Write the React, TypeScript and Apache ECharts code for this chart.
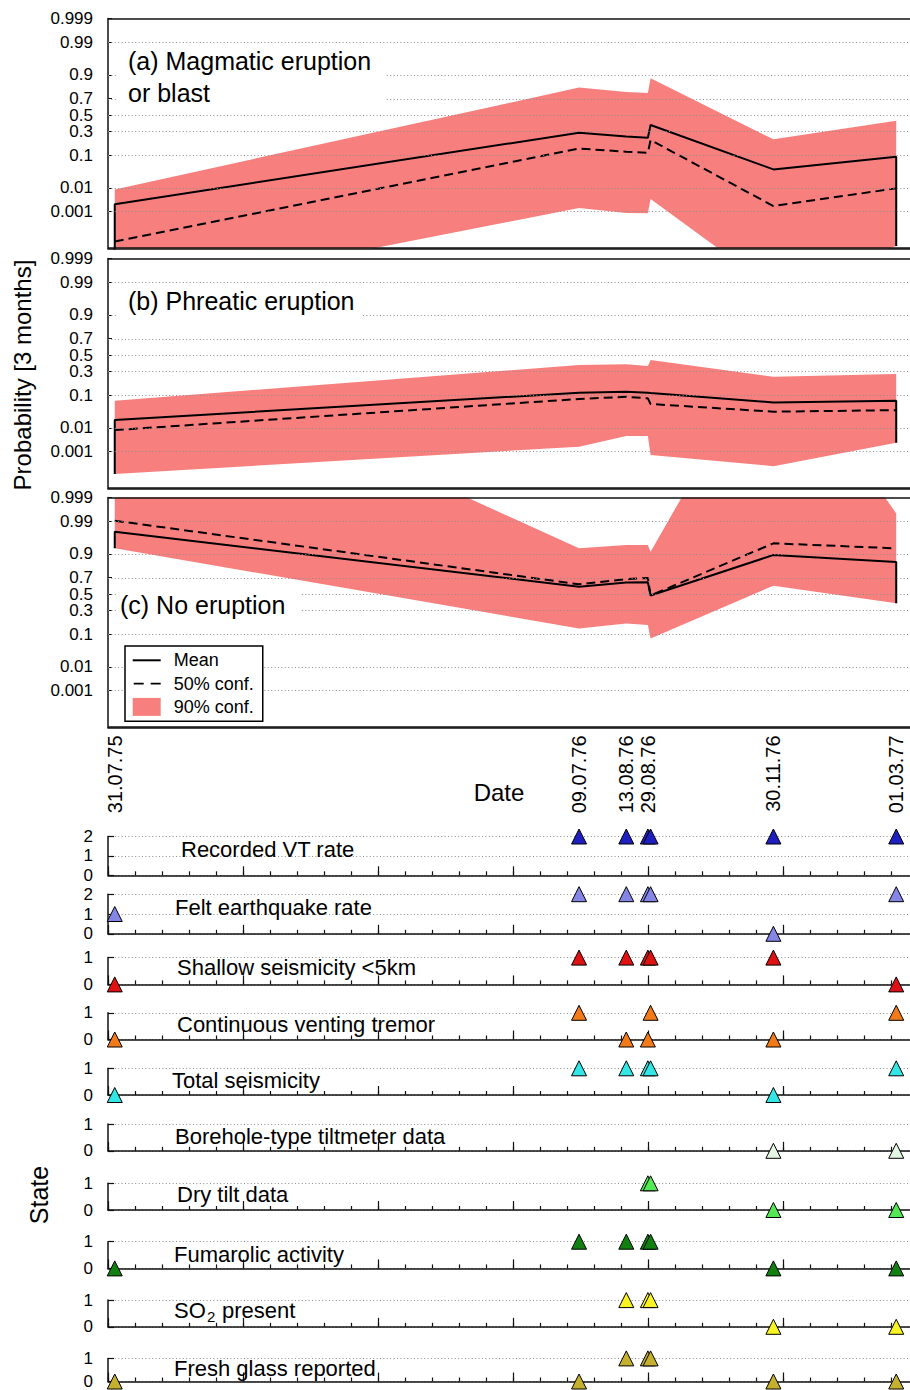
import React, { useEffect, useRef } from 'react';
import * as echarts from 'echarts';

// ---------------- data ----------------
const AXIS_START = '1975-07-26';
const AXIS_DAYS = 600;

const evalDates = ['1975-07-31', '1976-07-09', '1976-08-13', '1976-08-29', '1976-08-31', '1976-11-30', '1977-03-01'];
const dateTickDates = ['1975-07-31', '1976-07-09', '1976-08-13', '1976-08-29', '1976-11-30', '1977-03-01'];
const dateTickLabels = ['31.07.75', '09.07.76', '13.08.76', '29.08.76', '30.11.76', '01.03.77'];

const probTicks = [0.001, 0.01, 0.1, 0.3, 0.5, 0.7, 0.9, 0.99, 0.999];
const probTickLabels = ['0.001', '0.01', '0.1', '0.3', '0.5', '0.7', '0.9', '0.99', '0.999'];
const probAxisMin = 0.00001;
const probAxisMax = 0.999;

// (a) Magmatic eruption or blast
const magmaticMean = [0.00215, 0.286, 0.246, 0.234, 0.375, 0.041, 0.091];
const magmaticMedian = [0.000026, 0.142, 0.12, 0.114, 0.212, 0.0018, 0.0095];
const magmaticUpper = [0.0087, 0.81, 0.769, 0.759, 0.88, 0.2186, 0.428];
const magmaticLower = [2e-9, 0.00147, 0.00086, 0.00084, 0.0036, 1.4e-8, 1.4e-5];

// (b) Phreatic eruption
const phreaticMean = [0.0188, 0.114, 0.12, 0.114, 0.112, 0.065, 0.072];
const phreaticMedian = [0.0082, 0.08, 0.091, 0.083, 0.0586, 0.035, 0.039];
const phreaticUpper = [0.072, 0.375, 0.383, 0.362, 0.436, 0.244, 0.272];
const phreaticLower = [0.00007, 0.0017, 0.0048, 0.0048, 0.0007, 0.00019, 0.0025];

// (c) No eruption
const noEruptionMean = [0.977, 0.592, 0.643, 0.646, 0.481, 0.894, 0.847];
const noEruptionMedian = [0.9905, 0.622, 0.684, 0.696, 0.481, 0.9475, 0.928];
const noEruptionUpper = [0.9999999999999999, 0.928, 0.9414, 0.9414, 0.912, 0.9999999999999999, 0.995];
const noEruptionLower = [0.928, 0.136, 0.174, 0.161, 0.078, 0.605, 0.383];

const panelTitles = [['(a) Magmatic eruption', 'or blast'], ['(b) Phreatic eruption'], ['(c) No eruption']];

// state indicators (null = not evaluated)
const rowNames = [
  'Recorded VT rate', 'Felt earthquake rate', 'Shallow seismicity <5km', 'Continuous venting tremor',
  'Total seismicity', 'Borehole-type tiltmeter data', 'Dry tilt data', 'Fumarolic activity', 'SO2 present',
  'Fresh glass reported',
];
const rowMaxState = [2, 2, 1, 1, 1, 1, 1, 1, 1, 1];
const recordedVT = [null, 2, 2, 2, 2, 2, 2];
const feltEarthquake = [1, 2, 2, 2, 2, 0, 2];
const shallowSeismicity = [0, 1, 1, 1, 1, 1, 0];
const ventingTremor = [0, 1, 0, 0, 1, 0, 1];
const totalSeismicity = [0, 1, 1, 1, 1, 0, 1];
const boreholeTilt = [null, null, null, null, null, 0, 0];
const dryTilt = [null, null, null, 1, 1, 0, 0];
const fumarolic = [0, 1, 1, 1, 1, 0, 0];
const so2Present = [null, null, 1, 1, 1, 0, 0];
const freshGlass = [0, 0, 1, 1, 1, 0, 0];
const rowValues = [recordedVT, feltEarthquake, shallowSeismicity, ventingTremor, totalSeismicity,
  boreholeTilt, dryTilt, fumarolic, so2Present, freshGlass];

// ---------------- styles / layout ----------------
const FONT = "'Liberation Sans', Arial, Helvetica, sans-serif";
const PINK = '#f7807f';
const AXIS_COLOR = '#111';
const GRID_COLOR = '#8c8c8c';
const rowColors = ['#1f1fbf', '#8585e6', '#de1212', '#f27a18', '#33e6e6', '#e4f6e4', '#55e855', '#118011', '#f8f424', '#c4b02c'];
const rowTops = [836.5, 894.2, 957.6, 1012.8, 1068.3, 1124.1, 1183.3, 1241.7, 1300.1, 1358.4];
const rowHeights = [38.8, 39.6, 26.8, 26.7, 26.7, 26.7, 26.7, 26.7, 26.7, 26.7];
const rowLabelX = [181, 175, 177, 177, 172, 175, 177, 174, 174, 174];
const rowLabelY = [849, 907, 967.5, 1024.5, 1080.5, 1136, 1194.5, 1254.5, 1310.5, 1368.5];

const GRID_LEFT = 108;
const PX_PER_DAY = 1.3497;
const GRID_W = AXIS_DAYS * PX_PER_DAY;
const panelTops = [18.4, 258.4, 497.4];
const PANEL_H = 230;
const MEDIAN_DASH = [9, 5];

// ---------------- helpers (axis transforms) ----------------
function probit(p: number): number {
  const a = [-39.69683028665376, 220.9460984245205, -275.9285104469687, 138.357751867269, -30.66479806614716, 2.506628277459239];
  const b = [-54.47609879822406, 161.5858368580409, -155.6989798598866, 66.80131188771972, -13.28068155288572];
  const c = [-0.007784894002430293, -0.3223964580411365, -2.400758277161838, -2.549732539343734, 4.374664141464968, 2.938163982698783];
  const d = [0.007784695709041462, 0.3224671290700398, 2.445134137142996, 3.754408661907416];
  const pl = 0.02425;
  if (p < pl) {
    const q = Math.sqrt(-2 * Math.log(p));
    return (((((c[0] * q + c[1]) * q + c[2]) * q + c[3]) * q + c[4]) * q + c[5]) / ((((d[0] * q + d[1]) * q + d[2]) * q + d[3]) * q + 1);
  }
  if (p <= 1 - pl) {
    const q = p - 0.5;
    const r = q * q;
    return ((((((a[0] * r + a[1]) * r + a[2]) * r + a[3]) * r + a[4]) * r + a[5]) * q) / (((((b[0] * r + b[1]) * r + b[2]) * r + b[3]) * r + b[4]) * r + 1);
  }
  const q = Math.sqrt(-2 * Math.log(1 - p));
  return -(((((c[0] * q + c[1]) * q + c[2]) * q + c[3]) * q + c[4]) * q + c[5]) / ((((d[0] * q + d[1]) * q + d[2]) * q + d[3]) * q + 1);
}
const dayOf = (s: string) => (Date.parse(s) - Date.parse(AXIS_START)) / 86400000;
const nearestIndex = (vals: number[], v: number) => {
  let best = 0;
  vals.forEach((x, i) => { if (Math.abs(x - v) < Math.abs(vals[best] - v)) best = i; });
  return best;
};

const Y_MIN = probit(probAxisMin);
const Y_MAX = probit(probAxisMax);
const probTickPos = probTicks.map(probit);
const dateTickPos = dateTickDates.map(dayOf);

function buildOption(): any {
  const panels = [
    { mean: magmaticMean, median: magmaticMedian, upper: magmaticUpper, lower: magmaticLower },
    { mean: phreaticMean, median: phreaticMedian, upper: phreaticUpper, lower: phreaticLower },
    { mean: noEruptionMean, median: noEruptionMedian, upper: noEruptionUpper, lower: noEruptionLower },
  ];

  const grid: any[] = [];
  const xAxis: any[] = [];
  const yAxis: any[] = [];
  const series: any[] = [];

  panels.forEach((pn, i) => {
    grid.push({ left: GRID_LEFT, top: panelTops[i], width: GRID_W, height: PANEL_H, containLabel: false });
    xAxis.push({
      type: 'value', gridIndex: i, min: 0, max: AXIS_DAYS,
      axisLine: { show: true, onZero: false, lineStyle: { color: AXIS_COLOR, width: 1.5 } },
      axisTick: { show: false },
      splitLine: { show: false },
      axisLabel: i === 2
        ? {
          show: true, customValues: dateTickPos, rotate: 90, margin: 8, fontSize: 20, color: '#000', fontFamily: FONT,
          formatter: (v: number) => dateTickLabels[nearestIndex(dateTickPos, v)],
        }
        : { show: false },
    });
    yAxis.push({
      type: 'value', gridIndex: i, min: Y_MIN, max: Y_MAX,
      axisLine: { show: true, lineStyle: { color: AXIS_COLOR, width: 1.5 } },
      axisTick: { show: true, inside: true, length: 4, customValues: probTickPos, lineStyle: { color: AXIS_COLOR } },
      axisLabel: {
        show: true, customValues: probTickPos, margin: 15, fontSize: 17, color: '#000', fontFamily: FONT,
        formatter: (v: number) => probTickLabels[nearestIndex(probTickPos, v)],
      },
      splitLine: { show: false },
    });

    const upper = pn.upper;
    const lower = pn.lower;
    series.push({
      type: 'custom', name: '90% conf.', xAxisIndex: i, yAxisIndex: i, z: 1, silent: true, clip: true,
      itemStyle: { color: PINK },
      data: evalDates.map((d, k) => [dayOf(d), probit(lower[k]), probit(upper[k])]),
      encode: { x: 0, y: [1, 2] },
      renderItem: (params: any, api: any) => {
        if (params.dataIndex !== 0) return null;
        const up = evalDates.map((d, k) => api.coord([dayOf(d), probit(upper[k])]));
        const lo = evalDates.map((d, k) => api.coord([dayOf(d), probit(lower[k])])).reverse();
        const cs = params.coordSys;
        return {
          type: 'polygon',
          shape: { points: up.concat(lo) },
          style: { fill: PINK },
          clipPath: { type: 'rect', shape: { x: cs.x, y: cs.y, width: cs.width, height: cs.height } },
        };
      },
    });
    series.push({
      type: 'line', name: 'gridlines' + i, xAxisIndex: i, yAxisIndex: i, data: [], z: 2, silent: true, clip: false,
      markLine: {
        silent: true, symbol: ['none', 'none'], label: { show: false }, emphasis: { disabled: true },
        lineStyle: { type: [1, 2.4], color: GRID_COLOR, width: 1 },
        data: [
          ...probTickPos.slice(0, -1).map((v) => ({ yAxis: v })),
          { yAxis: Y_MAX, lineStyle: { type: 'solid', color: AXIS_COLOR, width: 1.5 } },
          { yAxis: Y_MIN, lineStyle: { type: 'solid', color: AXIS_COLOR, width: 1.5 } },
        ],
      },
    });
    const first = dayOf(evalDates[0]);
    const last = dayOf(evalDates[evalDates.length - 1]);
    series.push({
      type: 'line', name: 'Mean', xAxisIndex: i, yAxisIndex: i, z: 3, symbol: 'none', silent: true,
      lineStyle: { color: '#000', width: 2 }, itemStyle: { color: '#000' },
      data: [
        [first, probit(lower[0])],
        ...evalDates.map((d, k) => [dayOf(d), probit(pn.mean[k])]),
        [last, probit(lower[lower.length - 1])],
      ],
    });
    series.push({
      type: 'line', name: '50% conf.', xAxisIndex: i, yAxisIndex: i, z: 3, symbol: 'none', silent: true,
      lineStyle: { color: '#000', width: 2, type: MEDIAN_DASH }, itemStyle: { color: '#000' },
      data: evalDates.map((d, k) => [dayOf(d), probit(pn.median[k])]),
    });
  });

  const nRows = rowValues.length;
  rowValues.forEach((vals, r) => {
    const gi = 3 + r;
    grid.push({ left: GRID_LEFT, top: rowTops[r], width: GRID_W, height: rowHeights[r], containLabel: false });
    xAxis.push({
      type: 'value', gridIndex: gi, min: 0, max: AXIS_DAYS, interval: 20,
      axisLine: { show: true, onZero: false, lineStyle: { color: AXIS_COLOR, width: 1.5 } },
      axisTick: { show: true, inside: true, length: 4, lineStyle: { color: AXIS_COLOR, width: 1.2 } },
      axisLabel: { show: false }, splitLine: { show: false },
    });
    yAxis.push({
      type: 'value', gridIndex: gi, min: 0, max: rowMaxState[r], interval: 1,
      axisLine: { show: true, lineStyle: { color: AXIS_COLOR, width: 1.5 } },
      axisTick: { show: true, inside: true, length: 6, lineStyle: { color: AXIS_COLOR, width: 1.2 } },
      axisLabel: { show: true, margin: 15, fontSize: 17, color: '#000', fontFamily: FONT },
      splitLine: { show: true, lineStyle: { type: [1, 2.4], color: GRID_COLOR, width: 1 } },
    });
    series.push({
      type: 'scatter', name: rowNames[r], xAxisIndex: gi, yAxisIndex: gi, z: 5, clip: false, silent: true,
      symbol: 'triangle', symbolSize: 15,
      itemStyle: { color: rowColors[r], borderColor: '#000', borderWidth: 1, opacity: 1 },
      data: evalDates
        .map((d, k) => (vals[k] === null ? null : [dayOf(d), vals[k]]))
        .filter((p) => p !== null),
    });
  });
  // major ticks (every 100 days) for the state rows
  rowValues.forEach((_, r) => {
    const gi = 3 + r;
    xAxis.push({
      type: 'value', gridIndex: gi, min: 0, max: AXIS_DAYS, interval: 100, position: 'bottom',
      axisLine: { show: false },
      axisTick: { show: true, inside: true, length: 9, lineStyle: { color: AXIS_COLOR, width: 1.2 } },
      axisLabel: { show: false }, splitLine: { show: false },
    });
  });

  const txt = (text: string, x: number, y: number, size: number, extra: any = {}) => ({
    type: 'text', x, y, z: 101, silent: true,
    style: {
      text, fill: '#000', font: `${size}px ${FONT}`,
      align: extra.align || 'left', verticalAlign: 'middle',
      textAlign: extra.align || 'left', textVerticalAlign: 'middle',
    },
    rotation: extra.rotation || 0,
  });
  const box = (x: number, y: number, w: number, h: number) => ({
    type: 'rect', z: 100, silent: true, shape: { x, y, width: w, height: h }, style: { fill: '#fff' },
  });

  const graphic: any[] = [
    box(116, 46, 270, 62), txt(panelTitles[0][0], 128, 60.5, 25), txt(panelTitles[0][1], 128, 93, 25),
    box(116, 287, 246, 41), txt(panelTitles[1][0], 128, 300.5, 25),
    box(116, 585, 184, 39), txt(panelTitles[2][0], 120, 605, 25),
    txt('Date', 499, 792, 24, { align: 'center' }),
    txt('Probability [3 months]', 22, 375, 24, { align: 'center', rotation: Math.PI / 2 }),
    txt('State', 39, 1195, 25, { align: 'center', rotation: Math.PI / 2 }),
  ];
  for (let r = 0; r < nRows; r++) {
    if (rowNames[r] === 'SO2 present') {
      graphic.push(txt('SO', rowLabelX[r], rowLabelY[r], 22));
      graphic.push(txt('2', rowLabelX[r] + 33, rowLabelY[r] + 6, 15));
      graphic.push(txt('present', rowLabelX[r] + 48, rowLabelY[r], 22));
    } else {
      graphic.push(txt(rowNames[r], rowLabelX[r], rowLabelY[r], 22));
    }
  }

  const hiddenSymbol = { color: 'rgba(0,0,0,0)', borderColor: 'rgba(0,0,0,0)', borderWidth: 0, opacity: 0 };

  return {
    animation: false,
    backgroundColor: '#fff',
    textStyle: { fontFamily: FONT },
    grid, xAxis, yAxis, series, graphic,
    legend: {
      data: [
        { name: 'Mean', itemStyle: hiddenSymbol, lineStyle: { color: '#000', width: 2, type: 'solid' } },
        { name: '50% conf.', itemStyle: hiddenSymbol, lineStyle: { color: '#000', width: 1.6, type: [10, 7], dashOffset: -1 } },
        { name: '90% conf.', icon: 'rect', itemStyle: { color: PINK, borderWidth: 0 } },
      ],
      orient: 'vertical', left: 125, top: 646, selectedMode: false,
      itemWidth: 28, itemHeight: 18, itemGap: 5.3,
      padding: [5.3, 9, 5.3, 6.7],
      backgroundColor: '#fff', borderColor: '#000', borderWidth: 1.5, borderRadius: 0,
      textStyle: { fontSize: 18, color: '#000', fontFamily: FONT, padding: [0, 0, 0, 8], lineHeight: 18 },
      z: 20,
    },
  };
}

export default function App() {
  const ref = useRef<HTMLDivElement>(null);
  useEffect(() => {
    if (!ref.current) return;
    const chart = echarts.init(ref.current, null, { renderer: 'svg' });
    chart.setOption(buildOption());
    return () => chart.dispose();
  }, []);
  return (
    <div style={{ position: 'absolute', left: 0, top: 0, width: 910, height: 1390, overflow: 'hidden', background: '#fff' }}>
      <div ref={ref} style={{ width: 930, height: 1390 }} />
    </div>
  );
}
